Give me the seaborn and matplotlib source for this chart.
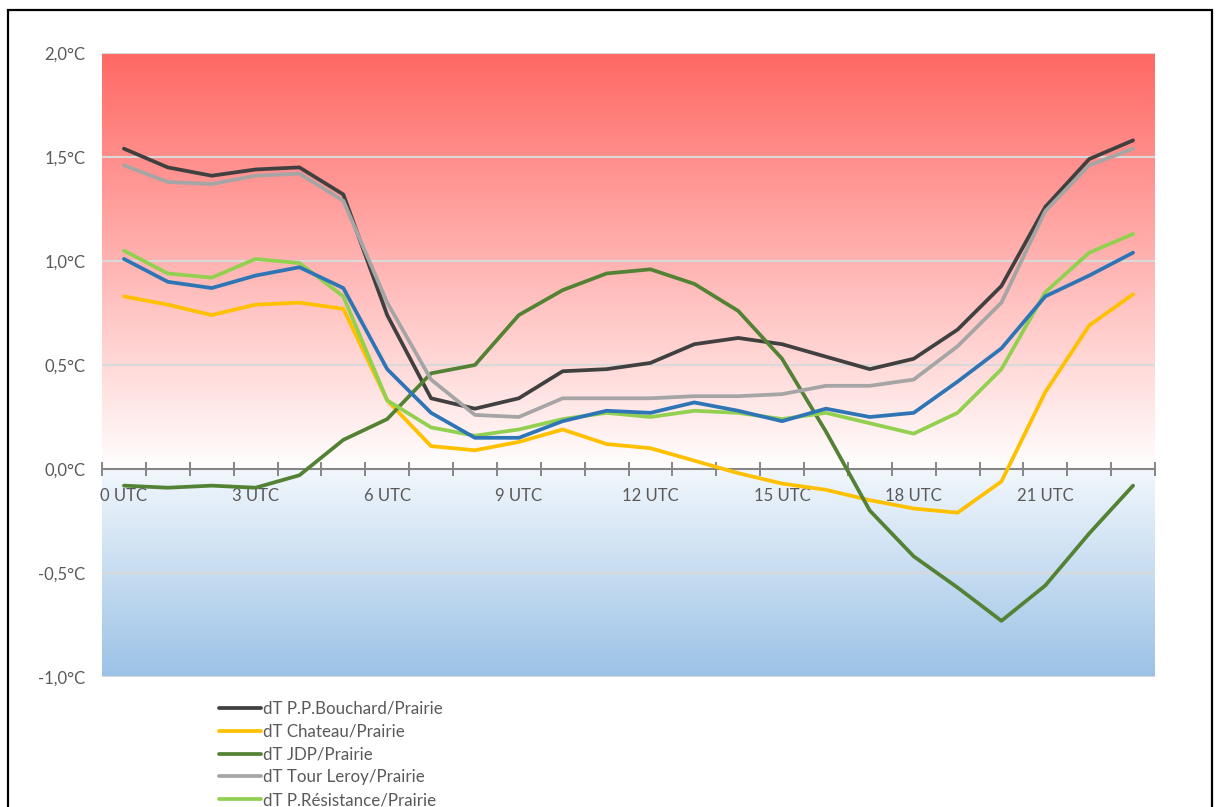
import numpy as np
import pandas as pd
import matplotlib
matplotlib.use("Agg")
import matplotlib.pyplot as plt
from matplotlib.patches import Rectangle
from matplotlib.ticker import FixedLocator, FuncFormatter
import seaborn as sns

# Hourly temperature differences (°C) of each station against the Prairie reference
hours = list(range(24))
hour_labels = ["0 UTC", "3 UTC", "6 UTC", "9 UTC", "12 UTC", "15 UTC", "18 UTC", "21 UTC"]

dt_bouchard = [1.54, 1.45, 1.41, 1.44, 1.45, 1.32, 0.74, 0.34, 0.29, 0.34, 0.47, 0.48,
               0.51, 0.60, 0.63, 0.60, 0.54, 0.48, 0.53, 0.67, 0.88, 1.26, 1.49, 1.58]
dt_chateau = [0.83, 0.79, 0.74, 0.79, 0.80, 0.77, 0.33, 0.11, 0.09, 0.13, 0.19, 0.12,
              0.10, 0.04, -0.02, -0.07, -0.10, -0.15, -0.19, -0.21, -0.06, 0.37, 0.69, 0.84]
dt_jdp = [-0.08, -0.09, -0.08, -0.09, -0.03, 0.14, 0.24, 0.46, 0.50, 0.74, 0.86, 0.94,
          0.96, 0.89, 0.76, 0.53, 0.18, -0.20, -0.42, -0.57, -0.73, -0.56, -0.31, -0.08]
dt_tour_leroy = [1.46, 1.38, 1.37, 1.41, 1.42, 1.29, 0.80, 0.43, 0.26, 0.25, 0.34, 0.34,
                 0.34, 0.35, 0.35, 0.36, 0.40, 0.40, 0.43, 0.59, 0.80, 1.24, 1.46, 1.54]
dt_resistance = [1.05, 0.94, 0.92, 1.01, 0.99, 0.83, 0.33, 0.20, 0.16, 0.19, 0.24, 0.27,
                 0.25, 0.28, 0.27, 0.24, 0.27, 0.22, 0.17, 0.27, 0.48, 0.85, 1.04, 1.13]
dt_serie6 = [1.01, 0.90, 0.87, 0.93, 0.97, 0.87, 0.48, 0.27, 0.15, 0.15, 0.23, 0.28,
             0.27, 0.32, 0.28, 0.23, 0.29, 0.25, 0.27, 0.42, 0.58, 0.83, 0.93, 1.04]

series_names = ["dT P.P.Bouchard/Prairie", "dT Chateau/Prairie", "dT JDP/Prairie",
                "dT Tour Leroy/Prairie", "dT P.Résistance/Prairie", "dT série 6/Prairie"]
series_values = [dt_bouchard, dt_chateau, dt_jdp, dt_tour_leroy, dt_resistance, dt_serie6]
series_colors = ["#404040", "#FFC000", "#548235", "#A5A5A5", "#92D050", "#2E75B6"]

y_ticks = [-1.0, -0.5, 0.0, 0.5, 1.0, 1.5, 2.0]

df = pd.DataFrame({
    "heure": hours * len(series_names),
    "dT": [v for vals in series_values for v in vals],
    "serie": [n for n in series_names for _ in hours],
})

sns.set_style("white")
plt.rcParams["font.family"] = ["Lato", "DejaVu Sans"]

W, H = 1216, 807
fig = plt.figure(figsize=(W / 100, H / 100), dpi=100)
ax = fig.add_axes([102 / W, 1 - 677 / H, (1155 - 102) / W, (677 - 53) / H])

# Background: red above zero fading to white, light blue fading to deeper blue below
n = 600
yy = np.linspace(-1.0, 2.0, n)
red_top = np.array([255, 104, 100]) / 255
white = np.array([255, 255, 255]) / 255
blue_top = np.array([242, 247, 252]) / 255
blue_bot = np.array([155, 194, 230]) / 255
rgb = np.zeros((n, 1, 3))
for i, v in enumerate(yy):
    if v >= 0:
        t = min(v / 2.0, 1.0)
        rgb[i, 0] = white * (1 - t) + red_top * t
    else:
        t = -v / 1.0
        rgb[i, 0] = blue_top * (1 - t) + blue_bot * t
ax.imshow(rgb, extent=[-0.5, 23.5, -1.0, 2.0], aspect="auto", origin="lower",
          zorder=0, interpolation="bilinear")

for yv in y_ticks:
    if yv != 0:
        ax.axhline(yv, color="#D9D9D9", lw=1.5, zorder=1)

sns.lineplot(data=df, x="heure", y="dT", hue="serie", hue_order=series_names,
             palette=dict(zip(series_names, series_colors)), linewidth=2.7,
             legend=False, ax=ax, zorder=3)

ax.set_xlim(-0.5, 23.5)
ax.set_ylim(-1.0, 2.0)
ax.set_xlabel("")
ax.set_ylabel("")

for side in ["top", "right", "left"]:
    ax.spines[side].set_visible(False)
ax.spines["bottom"].set_position(("data", 0))
ax.spines["bottom"].set_color("#868686")
ax.spines["bottom"].set_linewidth(1.5)
ax.spines["bottom"].set_zorder(2)

text_grey = "#595959"
ax.xaxis.set_major_locator(FixedLocator([0, 3, 6, 9, 12, 15, 18, 21]))
ax.set_xticklabels(hour_labels)
ax.xaxis.set_minor_locator(FixedLocator(np.arange(-0.5, 24, 1.0)))
ax.tick_params(axis="x", which="major", length=0, pad=13.5, labelsize=12,
               labelcolor=text_grey)
ax.tick_params(axis="x", which="minor", direction="inout", length=10, width=1.4,
               color="#868686", bottom=True)

ax.yaxis.set_major_locator(FixedLocator(y_ticks))
ax.yaxis.set_major_formatter(FuncFormatter(lambda v, p: f"{v:.1f}°C".replace(".", ",")))
ax.tick_params(axis="y", which="major", length=0, pad=12, labelsize=12,
               labelcolor=text_grey)

series_lines = [ln for ln in ax.get_lines() if ln.get_xydata().shape[0] == len(hours)]
leg = ax.legend(series_lines[:5], series_names[:5], loc="upper left",
                bbox_to_anchor=(219 / W, 1 - 701 / H), bbox_transform=fig.transFigure,
                frameon=False, handlelength=2.45, handletextpad=0.15, labelspacing=0.40,
                borderaxespad=0, borderpad=0, fontsize=12.2, labelcolor=text_grey)

fig.patches.append(Rectangle((8 / W, -0.05), (1212 - 8) / W, 1 - 10 / H + 0.05,
                             transform=fig.transFigure, fill=False, ec="black", lw=1.6))

fig.savefig("out.png", dpi=100)
